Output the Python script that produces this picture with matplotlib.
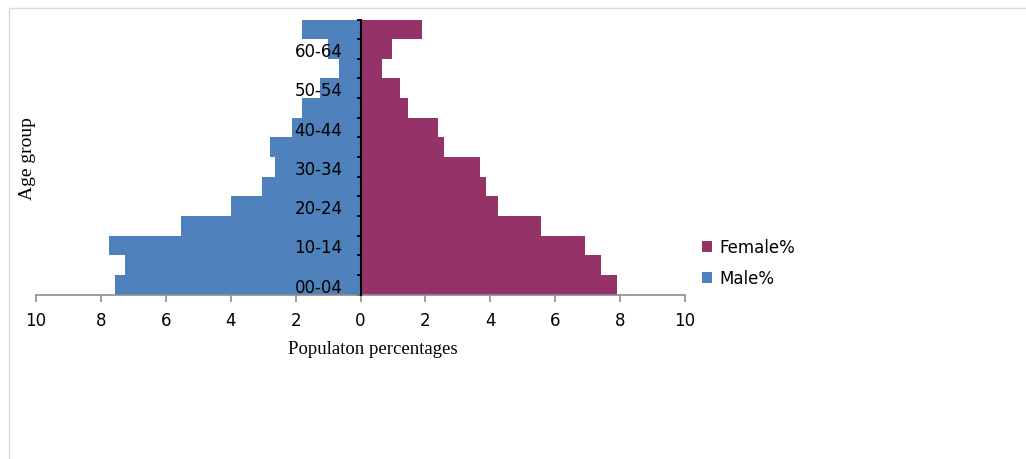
import matplotlib
matplotlib.use("Agg")
import matplotlib.pyplot as plt
from matplotlib.patches import Rectangle
from matplotlib.ticker import FuncFormatter, FixedLocator
import numpy as np

age_groups = ["00-04", "05-09", "10-14", "15-19", "20-24", "25-29", "30-34",
              "35-39", "40-44", "45-49", "50-54", "55-59", "60-64", "65+"]
male_pct = [7.56, 7.26, 7.76, 5.53, 3.98, 3.04, 2.62, 2.80, 2.12, 1.81, 1.26, 0.65, 1.01, 1.81]
female_pct = [7.90, 7.40, 6.91, 5.55, 4.24, 3.87, 3.69, 2.57, 2.39, 1.46, 1.21, 0.66, 0.97, 1.89]
xticks = [-10, -8, -6, -4, -2, 0, 2, 4, 6, 8, 10]

male_color = "#4F81BD"
female_color = "#953268"

W, H = 1026, 460
fig = plt.figure(figsize=(W / 100, H / 100), dpi=100)
fig.patch.set_facecolor("white")

# outer light frame
fig.patches.append(Rectangle((9 / W, -0.1), 1.2, (H - 9) / H + 0.1, transform=fig.transFigure,
                             fill=False, edgecolor="#d9d9d9", linewidth=1.0))

ax = fig.add_axes([36 / W, 1 - 295.5 / H, (685 - 36) / W, (295.5 - 20.5) / H])
ax.set_facecolor("none")

y = np.arange(len(age_groups))
hm = ax.barh(y, [-v for v in male_pct], height=1.0, color=male_color, label="Male%", zorder=1)
hf = ax.barh(y, female_pct, height=1.0, color=female_color, label="Female%", zorder=1)

ax.set_xlim(-10, 10)
ax.set_ylim(-0.5, len(age_groups) - 0.5)

for s in ["top", "right"]:
    ax.spines[s].set_visible(False)
ax.spines["bottom"].set_color("#8c8c8c")
ax.spines["bottom"].set_linewidth(1.2)
ax.spines["left"].set_position(("data", 0))
ax.spines["left"].set_color("black")
ax.spines["left"].set_linewidth(1.5)
ax.spines["left"].set_zorder(3)

ax.set_xticks(xticks)
ax.xaxis.set_major_formatter(FuncFormatter(lambda v, p: f"{abs(int(round(v)))}"))
ax.tick_params(axis="x", colors="#8c8c8c", length=5, width=1.2, direction="out", pad=7,
               labelsize=12, labelcolor="black")

# y: boundary ticks (major, no labels) and centered labels (minor)
ax.yaxis.set_major_locator(FixedLocator(np.arange(-0.5, len(age_groups), 1.0)))
ax.yaxis.set_major_formatter(FuncFormatter(lambda v, p: ""))
ax.yaxis.set_minor_locator(FixedLocator(y[::2]))
ax.yaxis.set_minor_formatter(FuncFormatter(lambda v, p: age_groups[int(round(v))]))
ax.tick_params(axis="y", which="major", length=3, width=1.3, color="black", direction="out")
ax.tick_params(axis="y", which="minor", length=0, pad=13, labelsize=12, labelcolor="black")
for lab in ax.get_yticklabels(minor=True):
    lab.set_zorder(5)

fig.text(373 / W, 1 - 350 / H, "Populaton percentages", ha="center", va="center",
         fontsize=13.5, family="Liberation Serif")
fig.text(27 / W, 1 - 159 / H, "Age group", ha="center", va="center", rotation=90,
         fontsize=14, family="Liberation Serif")

leg = fig.legend([hf, hm], ["Female%", "Male%"], loc="center left",
                 bbox_to_anchor=(702 / W, 1 - 264 / H), frameon=False, fontsize=12,
                 handlelength=0.6, handleheight=0.6, handletextpad=0.45, labelspacing=0.78,
                 borderaxespad=0, borderpad=0)

fig.savefig("out.png", dpi=100, facecolor="white")
